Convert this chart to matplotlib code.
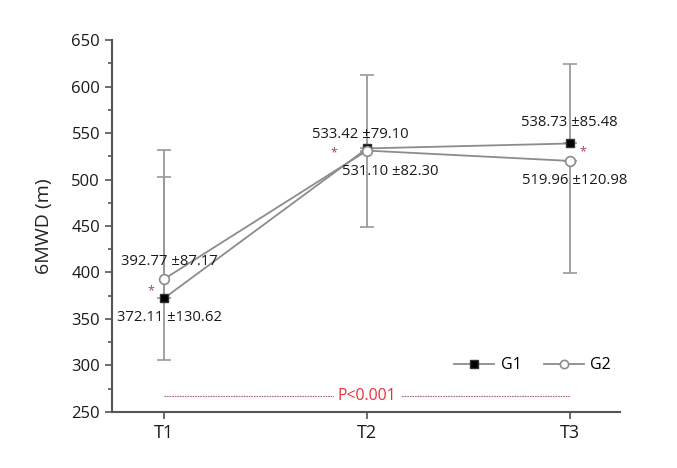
import numpy as np
import matplotlib
matplotlib.use('Agg')
import matplotlib.pyplot as plt
from matplotlib.ticker import MultipleLocator

plt.rcParams['font.family'] = ['Open Sans', 'DejaVu Sans']

# data
times = ['T1', 'T2', 'T3']
g1_mean = [372.11, 533.42, 538.73]
g1_sd = [130.62, 79.10, 85.48]
g2_mean = [392.77, 531.10, 519.96]
g2_sd = [87.17, 82.30, 120.98]
# the picture shows an extra upper cap for G2 at T1
g2_up = [139.4, 0, 0]
p_text = 'P<0.001'
p_level = 267

x = np.arange(1, len(times) + 1)

fig = plt.figure(figsize=(6.77, 4.68), dpi=100)
ax = fig.add_axes([0.1654, 0.1197, 0.7506, 0.7948])

bar_col = '#9a9a9a'
line_col = '#8c8c8c'

# G1: upper bars only, G2: lower bars only
ax.errorbar(x, g1_mean, yerr=[np.zeros(3), g1_sd], fmt='none', ecolor=bar_col,
            elinewidth=1.3, capsize=5, capthick=1.2, zorder=1)
ax.errorbar(x, g2_mean, yerr=[g2_sd, g2_up], fmt='none', ecolor=bar_col,
            elinewidth=1.3, capsize=5, capthick=1.2, zorder=1)

ax.plot(x, g1_mean, color=line_col, lw=1.3, marker='s', ms=6,
        mfc='black', mec='#333333', label='G1', zorder=3)
ax.plot(x, g2_mean, color=line_col, lw=1.3, marker='o', ms=7,
        mfc='white', mec='#8c8c8c', mew=1.2, label='G2', zorder=3)

# value labels (offsets in points)
g1_off = [(4, -14), (-5, 10), (-1, 15)]
g2_off = [(4, 13), (17, -15), (3, -14)]
for i in range(3):
    ax.annotate('%.2f \u00b1%.2f' % (g1_mean[i], g1_sd[i]), (x[i], g1_mean[i]),
                xytext=g1_off[i], textcoords='offset points',
                ha='center', va='center', fontsize=10.7, color='#1a1a1a')
    ax.annotate('%.2f \u00b1%.2f' % (g2_mean[i], g2_sd[i]), (x[i], g2_mean[i]),
                xytext=g2_off[i], textcoords='offset points',
                ha='center', va='center', fontsize=10.7, color='#1a1a1a')

# asterisks
star_off = [(-9, -8), (-24, -3), (9, -6)]
star_ref = [g2_mean[0], g1_mean[1], g1_mean[2]]
for i in range(3):
    ax.annotate('*', (x[i], star_ref[i]), xytext=star_off[i], textcoords='offset points',
                ha='center', va='center', fontsize=9, color='#a0406a')

# P line
ax.plot([x[0], x[-1]], [p_level, p_level], color='#a86a7c', lw=0.8,
        ls=(0, (1.5, 0.8)), zorder=2)
ax.text(x[1], p_level, p_text, ha='center', va='center', fontsize=11.4,
        color='#e8323c', bbox=dict(facecolor='white', edgecolor='none', pad=3), zorder=4)

ax.set_xlim(0.745, 3.245)
ax.set_ylim(250, 650)
ax.set_xticks(x)
ax.set_xticklabels(times, fontsize=13)
ax.yaxis.set_major_locator(MultipleLocator(50))
ax.yaxis.set_minor_locator(MultipleLocator(25))
ax.tick_params(axis='y', labelsize=12, direction='out', length=5, width=1.2, colors='#555555', labelcolor='#1a1a1a')
ax.tick_params(axis='y', which='minor', length=3, width=1.2, colors='#555555')
ax.tick_params(axis='x', direction='out', length=5, width=1.2, colors='#555555', labelcolor='#1a1a1a')
ax.set_ylabel('6MWD (m)', fontsize=14, color='#222222', labelpad=13)

for s in ['top', 'right']:
    ax.spines[s].set_visible(False)
for s in ['left', 'bottom']:
    ax.spines[s].set_color('#555555')
    ax.spines[s].set_linewidth(1.5)

ax.legend(loc='center right', bbox_to_anchor=(1.01, 0.125), ncol=2, frameon=False,
          fontsize=11.5, handlelength=2.5, columnspacing=1.4, handletextpad=0.4,
          markerscale=0.85)

fig.savefig('out.png', dpi=100)
